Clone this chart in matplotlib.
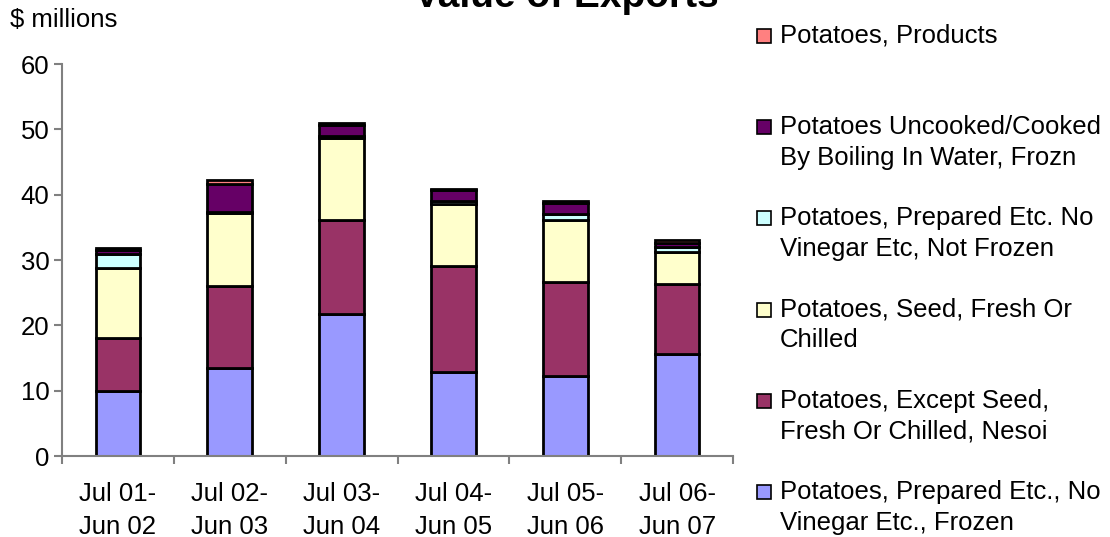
import matplotlib
import numpy as np

matplotlib.use("Agg")
import matplotlib.pyplot as plt
from matplotlib.patches import Rectangle

plt.rcParams["font.family"] = ["Liberation Sans", "DejaVu Sans"]

periods = ["Jul 01-\nJun 02", "Jul 02-\nJun 03", "Jul 03-\nJun 04",
           "Jul 04-\nJun 05", "Jul 05-\nJun 06", "Jul 06-\nJun 07"]

prepared_frozen = [10.0, 13.5, 21.7, 12.9, 12.2, 15.6]
except_seed = [8.1, 12.5, 14.4, 16.2, 14.4, 10.7]
seed = [10.7, 11.2, 12.6, 9.5, 9.5, 4.9]
prepared_not_frozen = [2.1, 0.2, 0.3, 0.4, 0.9, 0.8]
uncooked_frozen = [0.7, 4.2, 1.7, 1.7, 1.8, 0.6]
products = [0.2, 0.6, 0.2, 0.1, 0.3, 0.4]

series = [
    ("Potatoes, Prepared Etc., No\nVinegar Etc., Frozen", prepared_frozen, "#9999FF"),
    ("Potatoes, Except Seed,\nFresh Or Chilled, Nesoi", except_seed, "#993366"),
    ("Potatoes, Seed, Fresh Or\nChilled", seed, "#FFFFCC"),
    ("Potatoes, Prepared Etc. No\nVinegar Etc, Not Frozen", prepared_not_frozen, "#CCFFFF"),
    ("Potatoes Uncooked/Cooked\nBy Boiling In Water, Frozn", uncooked_frozen, "#660066"),
    ("Potatoes, Products", products, "#FF8080"),
]

FS = 18.5

fig = plt.figure(figsize=(11.1, 5.37), dpi=100)
ax = fig.add_axes([62 / 1110, 1 - 456 / 537, 671 / 1110, 392 / 537])

x = np.arange(len(periods))
bottom = np.zeros(len(periods))
for name, vals, color in series:
    ax.bar(x, vals, 0.4, bottom=bottom, color=color, edgecolor="black", linewidth=2)
    bottom += np.array(vals)

ax.set_xlim(-0.5, len(periods) - 0.5)
ax.set_ylim(0, 60)
ax.set_yticks(range(0, 61, 10))
ax.set_xticks(x)
ax.set_xticklabels(periods, fontsize=FS, linespacing=1.46)
ax.set_xticks(np.arange(-0.5, len(periods)), minor=True)
ax.tick_params(axis="x", which="major", length=0, pad=19)
ax.tick_params(axis="x", which="minor", length=6, direction="out", color="#808080", width=1.5)
ax.tick_params(axis="y", length=6, direction="out", color="#808080", width=1.5, labelsize=FS, pad=3)
for s in ["top", "right"]:
    ax.spines[s].set_visible(False)
for s in ["left", "bottom"]:
    ax.spines[s].set_color("#808080")
    ax.spines[s].set_linewidth(1.5)

fig.text(10 / 1110, 1 - 20 / 537, "$ millions", fontsize=FS, va="center", ha="left")
fig.text(566 / 1110, 1 - 7 / 537, "Value of Exports", fontsize=28, fontweight="bold",
         ha="center", va="baseline")

# legend, drawn by hand (top entry is the last series)
for i, (name, vals, color) in enumerate(reversed(series)):
    yc = 36 + i * 91.2
    fig.patches.append(Rectangle((757 / 1110, 1 - (yc + 7) / 537), 14 / 1110, 14 / 537,
                                 transform=fig.transFigure, facecolor=color,
                                 edgecolor="black", linewidth=1.2))
    fig.text(780 / 1110, 1 - (yc - 12) / 537, name, fontsize=FS, va="top", ha="left",
             linespacing=1.36)

fig.savefig("out.png", dpi=100)
